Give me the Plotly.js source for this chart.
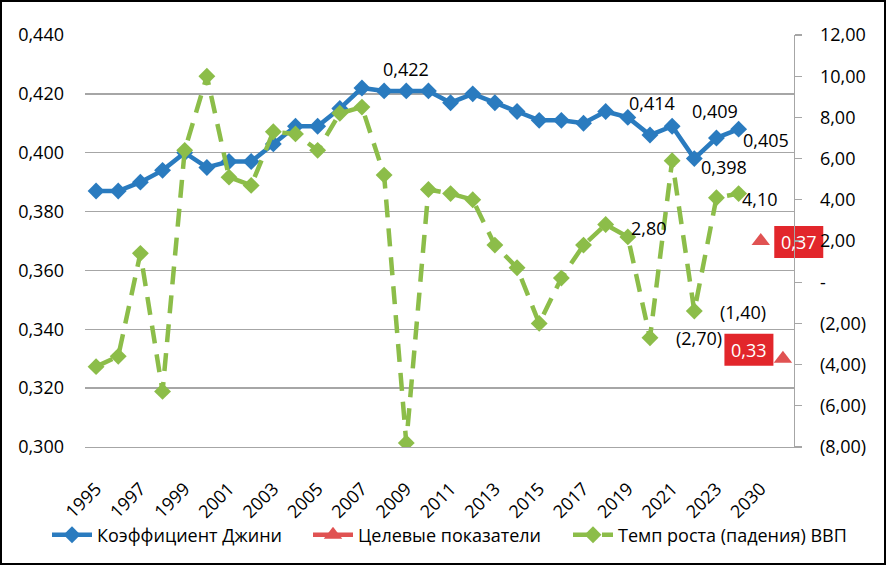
<!DOCTYPE html>
<html>
<head>
<meta charset="utf-8">
<script src="https://cdn.plot.ly/plotly-3.0.1.min.js"></script>
<style>
  html, body { margin: 0; padding: 0; background: #fff; }
  #wrap { position: relative; width: 886px; height: 565px; background: #fff; }
  #chart { width: 886px; height: 565px; }
  #frame { position: absolute; left: 0; top: 0; width: 886px; height: 565px; box-sizing: border-box; border: 2px solid #000; pointer-events: none; }
</style>
</head>
<body>
<div id="wrap"><div id="chart"></div><div id="frame"></div></div>
<script>
// ---- data ----
const years = ['1995','1996','1997','1998','1999','2000','2001','2002','2003','2004',
               '2005','2006','2007','2008','2009','2010','2011','2012','2013','2014',
               '2015','2016','2017','2018','2019','2020','2021','2022','2023','2024',
               '2030','2035'];
const gini = [0.387,0.387,0.390,0.394,0.400,0.395,0.397,0.397,0.403,0.409,
              0.409,0.415,0.422,0.421,0.421,0.421,0.417,0.420,0.417,0.414,
              0.411,0.411,0.410,0.414,0.412,0.406,0.409,0.398,0.405,0.408,
              null,null];
const targets = [null,null,null,null,null,null,null,null,null,null,
                 null,null,null,null,null,null,null,null,null,null,
                 null,null,null,null,null,null,null,null,null,null,
                 0.37,0.33];
const gdp = [-4.1,-3.6,1.4,-5.3,6.4,10.0,5.1,4.7,7.3,7.2,
             6.4,8.2,8.5,5.2,-7.8,4.5,4.3,4.0,1.8,0.7,
             -2.0,0.2,1.8,2.8,2.2,-2.7,5.9,-1.4,4.1,4.3,
             null,null];
const xTickVals = ['1995','1997','1999','2001','2003','2005','2007','2009','2011',
                   '2013','2015','2017','2019','2021','2023','2030'];
const leftTickVals = [0.300,0.320,0.340,0.360,0.380,0.400,0.420,0.440];
const leftTickText = ['0,300','0,320','0,340','0,360','0,380','0,400','0,420','0,440'];
const rightTickVals = [-8,-6,-4,-2,0,2,4,6,8,10,12];
const rightTickText = ['(8,00)','(6,00)','(4,00)','(2,00)','-','2,00','4,00','6,00','8,00','10,00','12,00'];
const seriesNames = ['Коэффициент Джини','Целевые показатели','Темп роста (падения) ВВП'];

// labelled points: [year, pixel shift x, pixel shift y]
const giniLabels = [['2007',44,19],['2018',46,9],['2021',43,15],['2022',30,-8],['2023',50,-2]];
const gdpLabels = [['2018',43,-3],['2020',49,0],['2022',49,-1],['2023',44,-1]];
const targetLabels = [['2030',38,-1],['2035',-34,9]];

// ---- styles ----
const BLUE = '#2a7bbf', GREEN = '#8cbd49', RED = '#e05252', BOX = '#e2262b';
const FONT = 'Open Sans, Noto Sans, sans-serif';
const FS = 18;
const X_RANGE = [-0.5, years.length - 0.5];
const Y_RANGE = [0.3, 0.44];
const Y2_RANGE = [-8, 12];

function fmtGini(v){ return v.toFixed(3).replace('.', ','); }
function fmtGdp(v){ const s = Math.abs(v).toFixed(2).replace('.', ','); return v < 0 ? '(' + s + ')' : s; }
function fmtTarget(v){ return v.toFixed(2).replace('.', ','); }

// target points kept unconnected: a null after each point breaks the line
const tx = [], ty = [];
years.forEach(function (yr, i) { if (targets[i] !== null) { tx.push(yr, yr); ty.push(targets[i], null); } });

const traces = [
  { x: years, y: gini, name: seriesNames[0], type: 'scatter', mode: 'lines+markers',
    yaxis: 'y', legend: 'legend', line: { color: BLUE, width: 4.5 },
    marker: { symbol: 'diamond', size: 13, color: BLUE } },
  { x: tx, y: ty, name: seriesNames[1], type: 'scatter', mode: 'lines+markers', connectgaps: false,
    yaxis: 'y', legend: 'legend2', line: { color: RED, width: 4.5 },
    marker: { symbol: 'triangle-up', size: 16, color: RED } },
  { x: years, y: gdp, name: seriesNames[2], type: 'scatter', mode: 'lines+markers',
    yaxis: 'y2', legend: 'legend3', line: { color: GREEN, width: 4.5, dash: '18px,11px' },
    marker: { symbol: 'diamond', size: 13, color: GREEN } }
];

const annotations = [];
const shapes = [];
giniLabels.forEach(function (p) {
  const i = years.indexOf(p[0]);
  annotations.push({ x: i, y: gini[i], xref: 'x', yref: 'y', text: fmtGini(gini[i]), showarrow: false,
    xshift: p[1], yshift: p[2], font: { family: FONT, size: FS, color: '#000' } });
});
gdpLabels.forEach(function (p) {
  const i = years.indexOf(p[0]);
  annotations.push({ x: i, y: gdp[i], xref: 'x', yref: 'y2', text: fmtGdp(gdp[i]), showarrow: false,
    xshift: p[1], yshift: p[2], font: { family: FONT, size: FS, color: '#000' } });
});
targetLabels.forEach(function (p) {
  const i = years.indexOf(p[0]);
  const v = targets[i];
  annotations.push({ x: i, y: v, xref: 'x', yref: 'y', text: fmtTarget(v), showarrow: false,
    xshift: p[1], yshift: p[2], font: { family: FONT, size: FS, color: '#fff' } });
  // red label box, anchored at the point (axis fraction) and sized in pixels, drawn beneath the axis labels
  shapes.push({ type: 'rect', layer: 'below', xref: 'paper', yref: 'paper',
    xsizemode: 'pixel', ysizemode: 'pixel',
    xanchor: (i - X_RANGE[0]) / (X_RANGE[1] - X_RANGE[0]),
    yanchor: (v - Y_RANGE[0]) / (Y_RANGE[1] - Y_RANGE[0]),
    x0: p[1] - 24.5, x1: p[1] + 24.5, y0: p[2] - 16, y1: p[2] + 16,
    fillcolor: BOX, line: { width: 0 } });
});

const PL = 85, PW = 709;
function px2paper(px) { return (px - PL) / PW; }
function legendAt(px) {
  return { orientation: 'h', x: px2paper(px), xanchor: 'left', y: -0.2136, yanchor: 'middle',
    itemwidth: 40,
    font: { family: FONT, size: FS, color: '#000' }, bgcolor: 'rgba(0,0,0,0)' };
}

const layout = {
  width: 886, height: 565,
  margin: { l: 85, r: 92, t: 35, b: 118, autoexpand: false },
  paper_bgcolor: '#fff', plot_bgcolor: 'rgba(0,0,0,0)',
  font: { family: FONT, size: FS, color: '#000' },
  showlegend: true,
  xaxis: { type: 'category', categoryorder: 'array', categoryarray: years, range: X_RANGE,
    tickmode: 'array', tickvals: xTickVals, ticktext: xTickVals,
    tickangle: -45, showgrid: false, showline: true, linecolor: '#a6a6a6', linewidth: 1.3,
    zeroline: false, ticks: '',
    tickfont: { family: FONT, size: FS, color: '#000' }, automargin: false, ticklabelstandoff: 23 },
  yaxis: { range: Y_RANGE, tickmode: 'array', tickvals: leftTickVals, ticktext: leftTickText,
    showgrid: true, gridcolor: '#a6a6a6', gridwidth: 1.3, zeroline: false, showline: false, ticks: '',
    tickfont: { family: FONT, size: FS, color: '#000' }, automargin: false, ticklabelstandoff: 20 },
  yaxis2: { overlaying: 'y', side: 'right', range: Y2_RANGE, tickmode: 'array', tickvals: rightTickVals, ticktext: rightTickText,
    showgrid: false, zeroline: false, showline: true, linecolor: '#a6a6a6', linewidth: 1.3,
    ticks: 'outside', ticklen: 7, tickcolor: '#a6a6a6', tickwidth: 1.3,
    tickfont: { family: FONT, size: FS, color: '#000' }, automargin: false, ticklabelstandoff: 14 },
  legend: legendAt(47),
  legend2: legendAt(308),
  legend3: legendAt(568),
  annotations: annotations,
  shapes: shapes
};

Plotly.newPlot('chart', traces, layout, { staticPlot: true, displayModeBar: false });
</script>
</body>
</html>
